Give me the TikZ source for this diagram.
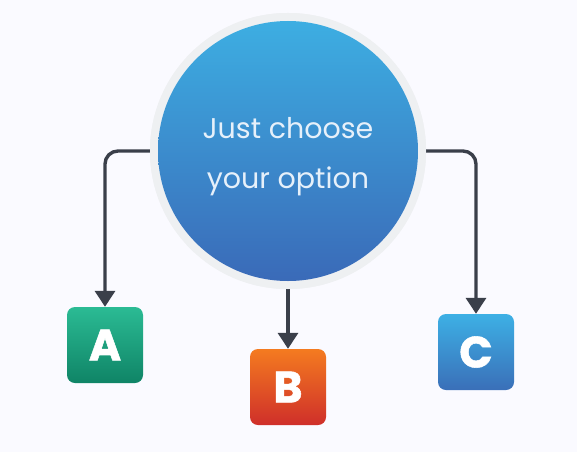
\documentclass[tikz,border=0pt]{standalone}
\usepackage{fontspec}
\setmainfont{Poppins}
\newfontfamily\heavyfont{Poppins}[BoldFeatures={FakeBold=1.2}]
\usetikzlibrary{arrows.meta}
\definecolor{bgcol}{HTML}{FAFAFF}
\definecolor{ringcol}{HTML}{EEF0F2}
\definecolor{linecol}{HTML}{3A3F4A}
\definecolor{hubtop}{HTML}{3DAEE2}
\definecolor{hubbot}{HTML}{3A6AB8}
\definecolor{atop}{HTML}{2BBB94}
\definecolor{abot}{HTML}{0F8466}
\definecolor{btop}{HTML}{F47B20}
\definecolor{bbot}{HTML}{CF2F2A}
\definecolor{ctop}{HTML}{3DB0E5}
\definecolor{cbot}{HTML}{3A6FB8}
\definecolor{hubtext}{HTML}{E6F0FA}
\begin{document}
\begin{tikzpicture}[x=1pt,y=-1pt,
  conn/.style={draw=linecol, line width=3.4pt, rounded corners=13pt,
    -{Triangle[width=20pt,length=16pt]}},
  optbox/.style={rounded corners=8pt, minimum size=76pt, inner sep=0pt,
    text=white, font=\heavyfont\fontsize{44}{44}\selectfont\bfseries}]
\fill[bgcol] (0,0) rectangle (577,452);
\node[optbox, top color=atop, bottom color=abot] (A) at (105,345) {A};
\node[optbox, top color=btop, bottom color=bbot] (B) at (288,387) {B};
\node[optbox, top color=ctop, bottom color=cbot] (C) at (476,352) {C};
\node[circle, fill=ringcol, minimum size=276pt, inner sep=0pt] (ring) at (288,151) {};
\draw[conn] (ring.west) -| (A.north);
\draw[conn] (ring.east) -| (C.north);
\draw[conn] (ring.south) -- (B.north);
\node[circle, fill=ringcol, minimum size=276pt, inner sep=0pt] at (288,151) {};
\node[circle, top color=hubtop, bottom color=hubbot, minimum size=260pt, inner sep=0pt] (hub) at (288,151) {};
\node[align=center, text=hubtext, font=\fontsize{28.5}{50}\selectfont] (label) at (288,157)
  {Just choose\\your option};
\end{tikzpicture}
\end{document}
